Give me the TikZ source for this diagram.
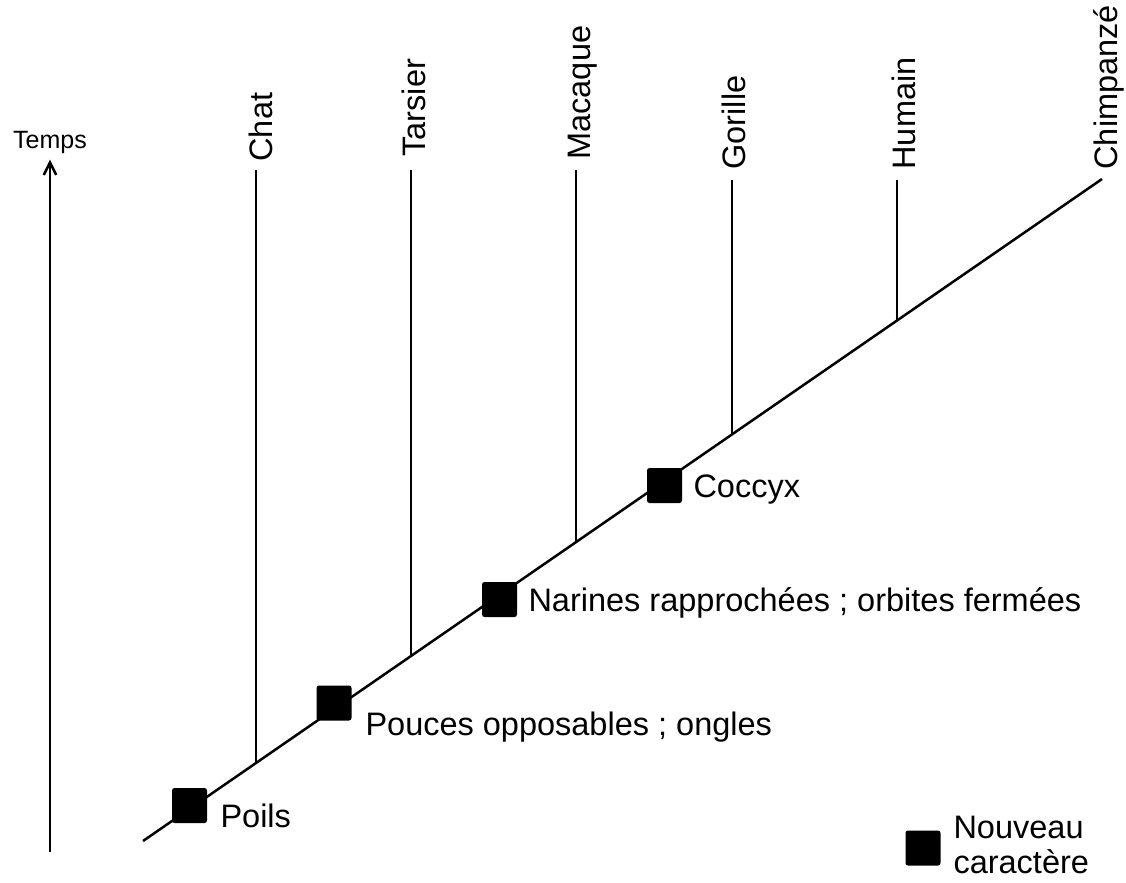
\documentclass[tikz,border=0pt]{standalone}
\usepackage{fontspec}
\setmainfont{Liberation Sans}
\usetikzlibrary{shapes,arrows,arrows.meta,positioning}

\tikzset{
  trait/.style={line width=1pt},
  newchar/.style={fill=black, rounded corners=1pt, minimum size=14pt, inner sep=0pt},
  taxon/.style={rotate=90, anchor=base west, inner sep=0pt, font=\fontsize{13}{14}\selectfont},
  charlabel/.style={anchor=base west, inner sep=0pt, align=left, font=\fontsize{13}{14}\selectfont}
}

\begin{document}
\begin{tikzpicture}[x=0.4pt, y=-0.4pt]
                \useasboundingbox (0,0) rectangle (1126,882);

                % axe du temps
                \node[inner sep=0pt, anchor=base, font=\fontsize{10}{12}\selectfont] (temps) at (50,148) {Temps};
                \coordinate (t0) at (50,852);
                \draw[trait, -{Straight Barb[length=5pt,width=5pt]}] (t0) -- ([yshift=-2.4pt]temps.south);

                % tronc
                \coordinate (racine) at (143,841);
                \coordinate (sommet) at (1102,179);
                \draw[trait] (racine) -- (sommet);
                \path (racine) -- (sommet)
                    coordinate[pos=0.1178] (nChat)
                    coordinate[pos=0.2795] (nTarsier)
                    coordinate[pos=0.4515] (nMacaque)
                    coordinate[pos=0.6142] (nGorille)
                    coordinate[pos=0.7862] (nHumain);

                % branches
                \coordinate (hChat) at (256,170);
                \coordinate (hTarsier) at (411,170);
                \coordinate (hMacaque) at (576,170);
                \coordinate (hGorille) at (732,180);
                \coordinate (hHumain) at (897,180);
                \draw[trait] (hChat) -- (hChat |- nChat);
                \draw[trait] (hTarsier) -- (hTarsier |- nTarsier);
                \draw[trait] (hMacaque) -- (hMacaque |- nMacaque);
                \draw[trait] (hGorille) -- (hGorille |- nGorille);
                \draw[trait] (hHumain) -- (hHumain |- nHumain);

                % taxons
                \node[taxon] (Chat) at (272,162) {Chat};
                \node[taxon] (Tarsier) at (425,157) {Tarsier};
                \node[taxon] (Macaque) at (590,160) {Macaque};
                \node[taxon] (Gorille) at (745,170) {Gorille};
                \node[taxon] (Humain) at (915,170) {Humain};
                \node[taxon] (Chimpanze) at (1117,170) {Chimpanzé};

                % caracteres
                \node[newchar] (cPoils) at (189.5,805.5) {};
                \node[newchar] (cPouces) at (334,703) {};
                \node[newchar] (cNarines) at (499.5,599.5) {};
                \node[newchar] (cCoccyx) at (664.5,485.5) {};
                \node[charlabel] (lPoils) at (220,827) {Poils};
                \node[charlabel] (lPouces) at (365,735) {Pouces opposables ; ongles};
                \node[charlabel] (lNarines) at (528,611) {Narines rapprochées ; orbites fermées};
                \node[charlabel] (lCoccyx) at (693,497) {Coccyx};

                % legende
                \node[newchar] (legende) at (923,848) {};
                \node[charlabel] (lLegende) at (953,873) {Nouveau\\caractère};

            \end{tikzpicture}
\end{document}
